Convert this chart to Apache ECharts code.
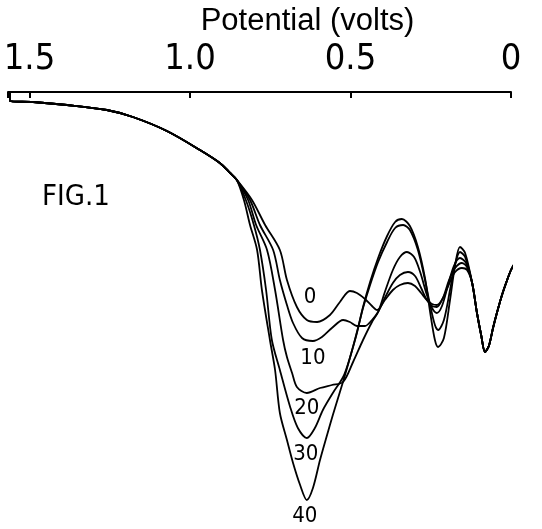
<!DOCTYPE html>
<html>
<head>
<meta charset="utf-8">
<script src="https://cdn.jsdelivr.net/npm/echarts@6/dist/echarts.min.js"></script>
<style>
  html, body { margin: 0; padding: 0; background: #fff; }
  #chart { width: 542px; height: 529px; }
</style>
</head>
<body>
<div id="chart"></div>
<script>
// Potential scale (volts), drawn reversed: 1.5 V on the left, 0 V on the right
const tickValues = [0, 0.5, 1.0, 1.5];
const tickLabels = ['0', '0.5', '1.0', '1.5'];

// Curve names written beside each trace
const curveNames = ['0', '10', '20', '30', '40'];

// Shared opening of every sweep: [potential (V), current (arb. units)]
const trunk = [
  [1.561, 0], [1.561, -0.9], [1.489, -1.0], [1.383, -1.3], [1.259, -1.8],
  [1.178, -2.5], [1.072, -3.9], [0.969, -5.8], [0.907, -7.1], [0.875, -8.1],
  [0.854, -8.8]
];

// Individual branches
const curve0 = [
  [0.807, -10.8], [0.766, -13.3], [0.720, -15.8], [0.698, -18.8], [0.667, -21.5],
  [0.636, -22.8], [0.604, -23.0], [0.564, -22.3], [0.533, -21.0], [0.502, -19.9],
  [0.480, -20.1], [0.455, -20.7], [0.433, -21.4], [0.417, -21.8], [0.393, -20.8],
  [0.368, -19.8], [0.346, -19.3], [0.321, -19.1], [0.299, -19.4], [0.280, -20.1],
  [0.262, -20.8], [0.246, -21.2], [0.231, -21.3], [0.212, -20.6], [0.193, -19.2],
  [0.174, -18.0], [0.153, -17.6], [0.137, -17.8]
];
const curve10 = [
  [0.813, -10.8], [0.782, -13.3], [0.741, -15.8], [0.720, -18.8], [0.698, -21.3],
  [0.679, -23.1], [0.651, -24.6], [0.617, -24.9], [0.589, -24.5], [0.558, -23.6],
  [0.523, -22.8], [0.502, -23.0], [0.480, -23.4], [0.455, -23.4], [0.433, -22.8],
  [0.414, -22.0], [0.393, -20.6], [0.368, -19.1], [0.346, -18.3], [0.321, -18.0],
  [0.299, -18.4], [0.280, -19.6], [0.262, -20.8], [0.246, -21.4], [0.231, -21.5],
  [0.212, -20.6], [0.193, -18.8], [0.174, -17.6], [0.153, -17.1], [0.137, -17.5]
];
const curve20 = [
  [0.819, -10.8], [0.794, -13.3], [0.760, -15.8], [0.735, -19.8], [0.710, -24.8],
  [0.698, -26.5], [0.682, -28.1], [0.667, -29.5], [0.636, -30.1], [0.595, -29.6],
  [0.558, -29.3], [0.523, -29.0], [0.492, -27.0], [0.461, -24.8], [0.433, -23.0],
  [0.414, -22.0], [0.393, -20.0], [0.368, -17.8], [0.346, -16.5], [0.324, -16.0],
  [0.302, -16.5], [0.283, -18.0], [0.262, -20.3], [0.246, -21.6], [0.231, -22.1],
  [0.215, -21.4], [0.196, -19.3], [0.178, -17.4], [0.159, -16.6], [0.140, -17.1]
];
const curve30 = [
  [0.826, -10.8], [0.801, -13.3], [0.782, -15.8], [0.763, -19.8], [0.745, -24.8],
  [0.720, -27.8], [0.688, -31.5], [0.664, -33.6], [0.636, -34.6], [0.611, -33.6],
  [0.586, -31.8], [0.555, -30.1], [0.523, -28.5], [0.502, -26.6], [0.480, -24.0],
  [0.461, -21.6], [0.439, -19.3], [0.414, -17.0], [0.386, -15.0], [0.361, -13.6],
  [0.336, -13.3], [0.315, -13.8], [0.290, -15.8], [0.268, -18.8], [0.252, -21.3],
  [0.237, -23.3], [0.227, -23.8], [0.209, -22.8], [0.190, -19.8], [0.174, -17.2],
  [0.159, -16.0], [0.143, -16.5]
];
const curve40 = [
  [0.832, -10.8], [0.813, -13.3], [0.791, -15.8], [0.776, -19.8], [0.751, -24.8],
  [0.735, -27.8], [0.720, -32.1], [0.698, -34.8], [0.679, -37.1], [0.657, -39.3],
  [0.636, -40.8], [0.617, -39.6], [0.595, -36.8], [0.573, -34.3], [0.555, -32.3],
  [0.533, -30.0], [0.517, -28.3], [0.502, -26.6], [0.480, -24.1], [0.461, -21.5],
  [0.439, -19.0], [0.414, -16.6], [0.386, -14.4], [0.361, -13.0], [0.340, -12.7],
  [0.315, -13.4], [0.290, -15.5], [0.268, -18.6], [0.252, -22.0], [0.237, -24.8],
  [0.227, -25.5], [0.209, -24.6], [0.190, -20.8], [0.174, -17.3], [0.159, -15.5],
  [0.143, -16.1]
];

// Shared closing of every sweep
const tail = [
  [0.121, -19.1], [0.106, -22.1], [0.093, -24.3], [0.081, -26.0], [0.069, -25.4],
  [0.056, -23.6], [0.044, -22.1], [0.028, -20.3], [0.012, -18.8], [0.000, -17.8],
  [-0.012, -17.1]
];

const branches = [curve0, curve10, curve20, curve30, curve40];

// Where each curve name sits relative to the lowest point of its own branch
const labelPlacement = [
  { position: 'top', offset: [-7, -8] },
  { position: 'bottom', offset: [0, 1] },
  { position: 'bottom', offset: [0, -1] },
  { position: 'bottom', offset: [-1, 0] },
  { position: 'bottom', offset: [-2, 0] }
];

const narrow = '"Liberation Sans Narrow", "DejaVu Sans Condensed", "Liberation Sans", sans-serif';

function lowestPoint(arr) {
  let best = arr[0];
  arr.forEach(p => { if (p[1] < best[1]) best = p; });
  return best;
}

const series = branches.map((branch, i) => ({
  name: curveNames[i],
  type: 'line',
  data: trunk.concat(branch, tail),
  smooth: 0.3,
  symbol: 'none',
  clip: false,
  lineStyle: { color: '#000', width: 1.8 },
  markPoint: {
    symbol: 'circle',
    symbolSize: 1,
    itemStyle: { color: 'rgba(0,0,0,0)' },
    data: [{
      coord: lowestPoint(branch),
      label: {
        show: true,
        formatter: curveNames[i],
        position: labelPlacement[i].position,
        offset: labelPlacement[i].offset,
        distance: 5,
        color: '#000',
        fontFamily: narrow,
        fontSize: 22
      }
    }]
  }
}));

const chart = echarts.init(document.getElementById('chart'), null, { renderer: 'canvas' });
chart.setOption({
  backgroundColor: '#fff',
  animation: false,
  title: {
    text: 'FIG.1',
    left: 37,
    top: 178,
    textStyle: { fontFamily: narrow, fontSize: 29, fontWeight: 'normal', color: '#000' }
  },
  grid: { left: 8, right: 31, top: 92, bottom: 17, outerBoundsMode: 'none', containLabel: false },
  xAxis: {
    type: 'value',
    position: 'top',
    inverse: true,
    min: 0,
    max: 1.567,
    interval: 0.5,
    name: 'Potential (volts)',
    nameLocation: 'middle',
    nameGap: 37,
    nameTextStyle: {
      fontFamily: '"Liberation Sans", sans-serif',
      fontSize: 31,
      color: '#000',
      padding: [0, 0, 0, 96]
    },
    axisLine: { show: true, lineStyle: { color: '#000', width: 2 } },
    axisTick: { show: true, inside: true, length: 6, lineStyle: { color: '#000', width: 2 } },
    axisLabel: {
      margin: 14,
      fontFamily: narrow,
      fontSize: 36,
      color: '#000',
      formatter: v => {
        const k = tickValues.findIndex(t => Math.abs(t - v) < 1e-6);
        return k >= 0 ? tickLabels[k] : '';
      }
    },
    splitLine: { show: false }
  },
  yAxis: {
    type: 'value',
    min: -42,
    max: 0,
    show: false
  },
  series: series
});
</script>
</body>
</html>
